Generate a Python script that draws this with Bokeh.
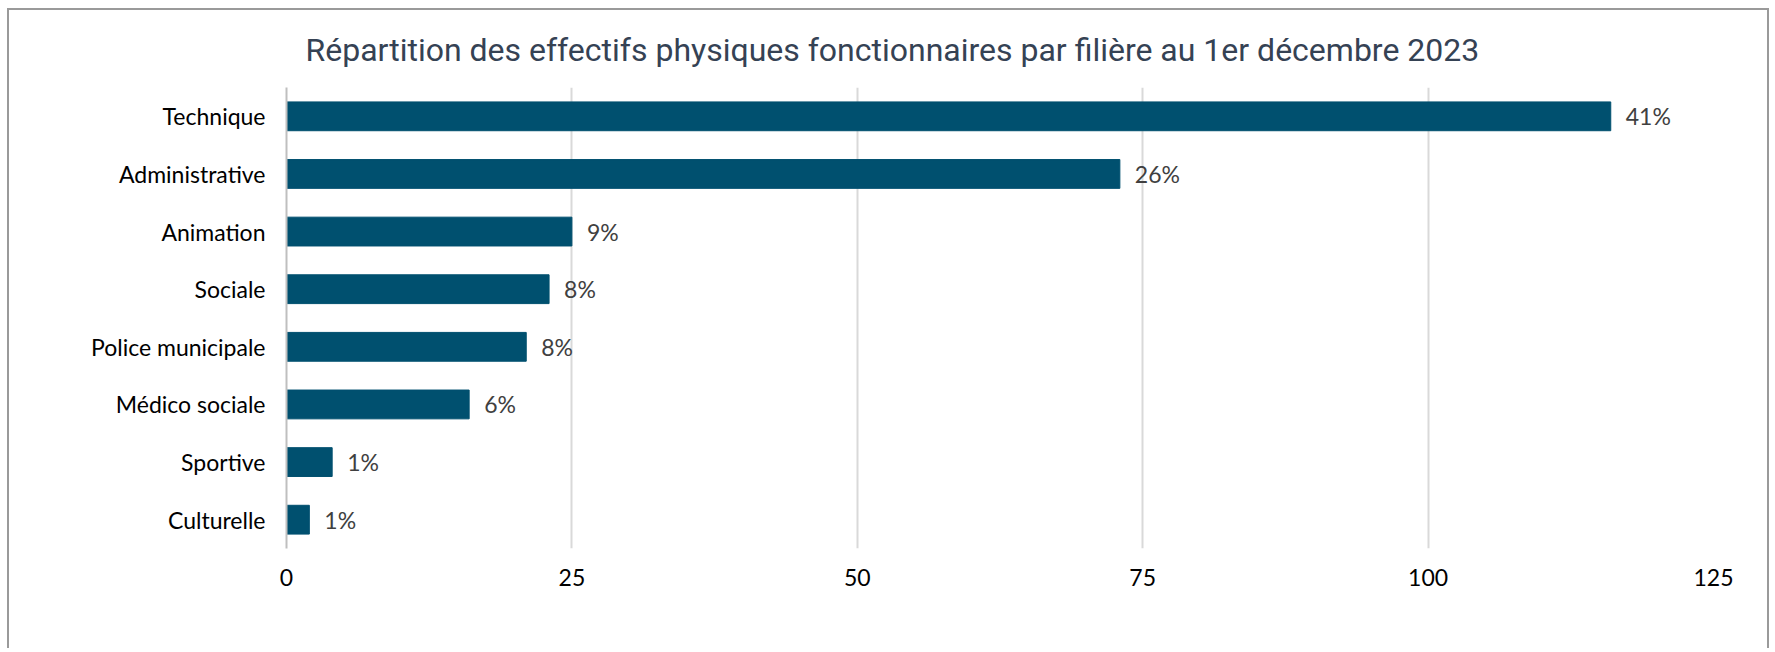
from bokeh.plotting import figure
from bokeh.models import ColumnDataSource, FactorRange, Range1d, FixedTicker
from bokeh.core.properties import value
from bokeh.embed import file_html
from bokeh.resources import INLINE

# ---- data ----
categories = ["Technique", "Administrative", "Animation", "Sociale",
              "Police municipale", "Médico sociale", "Sportive", "Culturelle"]
effectifs = [116, 73, 25, 23, 21, 16, 4, 2]
pct_labels = ["41%", "26%", "9%", "8%", "8%", "6%", "1%", "1%"]
x_ticks = [0, 25, 50, 75, 100, 125]
title_text = "Répartition des effectifs physiques fonctionnaires par filière au 1er décembre 2023"

BAR = "#00506F"
LABEL_FONT = "Lato"
LABEL_SIZE = "23px"

source = ColumnDataSource(dict(cat=categories, val=effectifs, lab=pct_labels))

p = figure(
    width=1762, height=640,
    y_range=FactorRange(factors=categories[::-1]),
    x_range=Range1d(0, 125),
    output_backend="svg", toolbar_location=None,
)
p.styles = {"margin-left": "7px", "margin-top": "8px",
            "border-left": "2px solid #9a9a9a", "border-top": "2px solid #9a9a9a",
            "border-right": "2px solid #9a9a9a"}
p.min_border_left = 277
p.min_border_right = 58
p.min_border_top = 76
p.min_border_bottom = 102
p.outline_line_color = None
p.background_fill_color = "white"
p.border_fill_color = "white"

p.hbar(y="cat", right="val", left=0, height=0.5, source=source,
       fill_color=BAR, line_color=BAR)

p.text(x="val", y="cat", text="lab", source=source, x_offset=15,
       text_baseline="middle", text_align="left",
       text_font=value(LABEL_FONT), text_font_size=LABEL_SIZE, text_color="#404040")

# title
p.title.text = title_text
p.title.text_font = "Roboto"
p.title.text_font_size = "32px"
p.title.text_font_style = "normal"
p.title.text_color = "#354254"
p.title.align = "left"
p.title.offset = 19
p.title.standoff = 37

# x axis
p.xaxis.ticker = FixedTicker(ticks=x_ticks)
p.xaxis.axis_line_color = None
p.xaxis.major_tick_line_color = None
p.xaxis.minor_tick_line_color = None
p.xaxis.major_label_text_font = LABEL_FONT
p.xaxis.major_label_text_font_size = LABEL_SIZE
p.xaxis.major_label_text_color = "black"
p.xaxis.major_label_standoff = 14

# y axis
p.yaxis.axis_line_color = "#bfbfbf"
p.yaxis.axis_line_width = 2
p.yaxis.major_tick_line_color = None
p.yaxis.minor_tick_line_color = None
p.yaxis.major_label_text_font = LABEL_FONT
p.yaxis.major_label_text_font_size = LABEL_SIZE
p.yaxis.major_label_text_color = "black"
p.yaxis.major_label_standoff = 15

p.xgrid.grid_line_color = "#d9d9d9"
p.xgrid.grid_line_width = 2
p.ygrid.grid_line_color = None

open("out.html", "w").write(file_html(p, INLINE))
